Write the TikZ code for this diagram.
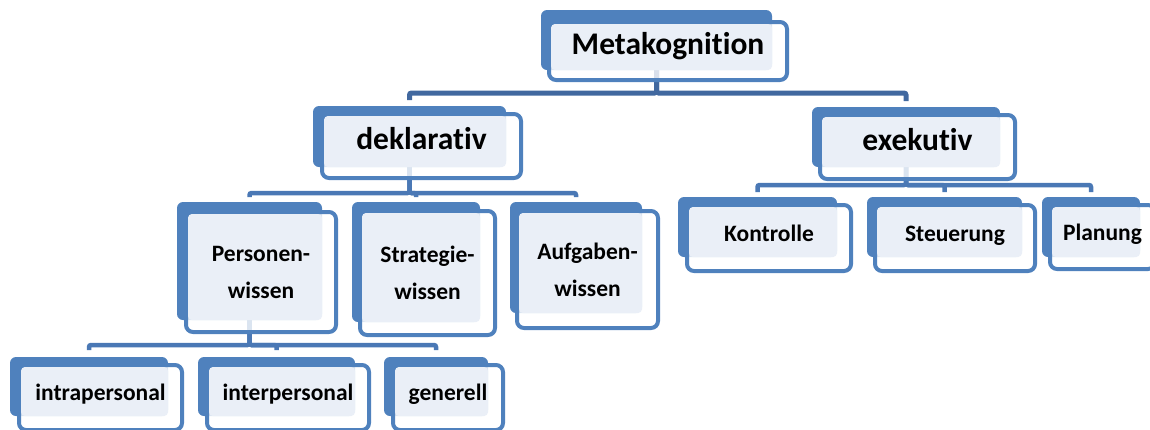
\documentclass[tikz,border=0pt]{standalone}
\usepackage{fontspec}
\setmainfont{Carlito}[Ligatures={NoCommon,NoRare,NoContextual},Contextuals=NoAlternate]
\usetikzlibrary{calc,fit}
\pgfdeclarelayer{bg}
\pgfsetlayers{bg,main}
\definecolor{sablue}{HTML}{4F81BD}
\definecolor{salight}{HTML}{EAEFF7}
\definecolor{sabar}{HTML}{4A78B5}
\definecolor{sabartop}{HTML}{41689F}
\newcommand\nolig{\kern0pt }
\tikzset{
 backbox/.style={fill=sablue, rounded corners=6pt, inner sep=0pt, outer sep=0pt},
 frontbox/.style={draw=sablue, line width=4pt, fill=white, fill opacity=0.8, rounded corners=7pt, inner sep=0pt, outer sep=0pt},
 lightfill/.style={fill=salight, rounded corners=4pt},
 sabig/.style={font=\fontsize{31.5}{37}\selectfont\bfseries, text height=0.64em, text depth=0pt, inner sep=0pt},
 sasmall/.style={font=\fontsize{23.5}{37}\selectfont\bfseries, text height=0.64em, text depth=0pt, inner sep=0pt},
 satwo/.style={font=\fontsize{23.5}{37}\selectfont\bfseries, align=center, inner sep=0pt},
 conn/.style={draw=sabar, line width=4.5pt, rounded corners=2pt},
 conntop/.style={conn, draw=sabartop, line width=5pt},
}
\newcommand\sabox[7]{%
 \coordinate (#1-p) at (#2);
 \coordinate (#1-q) at (#3);
 \coordinate (#1-r) at (#4);
 \coordinate (#1-s) at (#5);
 \node[backbox, fit=(#1-p)(#1-q)] (#1-b) {};
 \node[frontbox, fit=(#1-r)(#1-s)] (#1-f) {};
 \fill[lightfill] ($(#1-r)+(2,2)$) rectangle (#1-q);
 \node[#6] (#1) at (#1-f.center) {#7};
}
\begin{document}
\begin{tikzpicture}[x=1pt,y=-1pt]
\useasboundingbox (0,0) rectangle (1150,429);
% level 0
\sabox{meta}{541,10}{772,70}{549,22}{787,80}{sabig}{Metakognit\nolig ion}
% level 1
\sabox{dek}{313,106}{506,167}{322,114}{521,178}{sabig}{deklarat\nolig iv}
\sabox{exe}{812,107}{1000,167}{820,115}{1015,179}{sabig}{exekut\nolig iv}
% level 2 under deklarativ
\sabox{pers}{177,202}{322,320}{186,212}{336,332}{satwo}{Personen-\\wissen}
\sabox{strat}{352,202}{480,322}{360,211}{495,335}{satwo}{Strategie-\\wissen}
\sabox{aufg}{510,202}{642,313}{517,211}{658,328}{satwo}{Aufgaben-\\wissen}
% level 2 under exekutiv
\sabox{kontr}{678,197}{837,257}{687,205}{851,271}{sasmall}{Kontrolle}
\sabox{steu}{867,197}{1022,257}{875,205}{1035,271}{sasmall}{Steuerung}
\sabox{plan}{1042,197}{1140,257}{1050,205}{1155,269}{sasmall}{Planung}
% level 3 under Personenwissen
\sabox{intra}{10,357}{168,416}{19,365}{182,430}{sasmall}{intrapersonal}
\sabox{inter}{198,357}{355,416}{207,365}{369,430}{sasmall}{interpersonal}
\sabox{gen}{384,357}{488,416}{393,365}{503,430}{sasmall}{generell}
% connectors
\begin{pgfonlayer}{bg}
\coordinate (y1) at (0,93);
\coordinate (y2) at (0,193);
\coordinate (y3) at (0,185);
\coordinate (y4) at (0,345);
\foreach \c in {dek,exe}
  \draw[conntop, shorten >=6pt] (meta-b.south) -- (meta-b.south |- y1) -| (\c-b.north);
\foreach \c in {pers,strat,aufg}
  \draw[conn, shorten >=5pt] (dek-b.south) -- (dek-b.south |- y2) -| (\c-b.north);
\foreach \c in {kontr,steu,plan}
  \draw[conn, shorten >=5pt] (exe-b.south) -- (exe-b.south |- y3) -| (\c-b.north);
\foreach \c in {intra,inter,gen}
  \draw[conn, shorten >=7pt] (pers-b.south) -- (pers-b.south |- y4) -| (\c-b.north);
\end{pgfonlayer}
\end{tikzpicture}
\end{document}
